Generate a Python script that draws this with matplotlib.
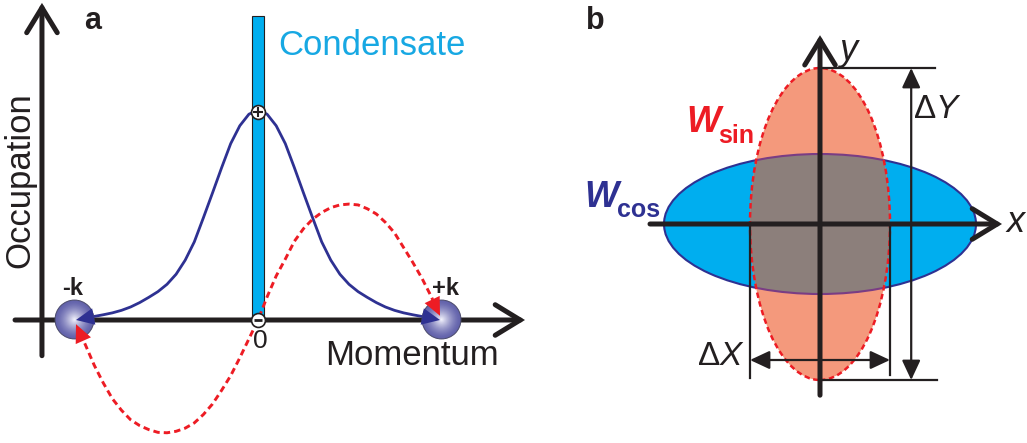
import matplotlib
matplotlib.use('Agg')
import matplotlib.pyplot as plt
from matplotlib.patches import Ellipse, Rectangle
from matplotlib.colors import to_rgb
import numpy as np

plt.rcParams['font.family'] = ['Liberation Sans', 'DejaVu Sans']
plt.rcParams['mathtext.fontset'] = 'custom'
plt.rcParams['mathtext.rm'] = 'Liberation Sans'
plt.rcParams['mathtext.it'] = 'Liberation Sans:italic'

INK = '#231f20'
NAVY = '#2e3192'
RED = '#ed1c24'
CYAN = '#00aeef'
CYAN_TEXT = '#17a8e3'
SALMON = '#f4997c'
GRAY = '#8c7f7b'
PURPLE = '#7a3d84'

# ---- panel a: occupation vs momentum (momentum in units of k) ----
momentum = np.round(np.arange(-1.0, 1.0001, 0.05), 2)
occupation_cos = [0.000, 0.009, 0.017, 0.025, 0.034, 0.046, 0.062, 0.083, 0.108, 0.135,
                  0.170, 0.218, 0.285, 0.372, 0.487, 0.605, 0.725, 0.840, 0.925, 0.980,
                  1.000,
                  0.980, 0.925, 0.840, 0.725, 0.605, 0.487, 0.372, 0.285, 0.218, 0.170,
                  0.135, 0.108, 0.083, 0.062, 0.046, 0.034, 0.025, 0.017, 0.009, 0.000]
amplitude_sin = [-0.020, -0.115, -0.215, -0.300, -0.375, -0.430, -0.475, -0.503, -0.522, -0.535,
                 -0.537, -0.530, -0.515, -0.490, -0.450, -0.400, -0.335, -0.265, -0.180, -0.090,
                 0.000,
                 0.110, 0.210, 0.290, 0.375, 0.435, 0.480, 0.512, 0.535, 0.548, 0.552,
                 0.548, 0.530, 0.505, 0.465, 0.415, 0.345, 0.275, 0.200, 0.115, 0.020]
condensate_height = 1.45
pair_momenta = [-1.01, 1.005]
pair_labels = ['-k', '+k']

# ---- panel b: Wigner ellipses ----
cos_size = (3.9, 1.75)   # width, height of W_cos
sin_size = (1.75, 3.9)   # width, height of W_sin
delta_x = 0.875          # half width of W_sin
delta_y = 1.95           # half height of W_sin

fig = plt.figure(figsize=(10.27, 4.43), dpi=100)

# panel a axes: 182 px per k, 210 px per unit occupation
ax = fig.add_axes([0, 0, 540 / 1027, 1])
ax.set_xlim(-258 / 182, 282 / 182)
ax.set_ylim(-123 / 210, 320 / 210)
ax.axis('off')

axis_arrow = dict(arrowstyle='->,head_length=0.9,head_width=0.55', mutation_scale=20,
                  lw=3.6, color=INK, shrinkA=0, shrinkB=0, joinstyle='miter')
ax.annotate('', xy=(-1.187, 1.51), xytext=(-1.187, -0.17), arrowprops=axis_arrow, zorder=2)
ax.annotate('', xy=(1.467, 0), xytext=(-1.335, 0), arrowprops=axis_arrow, zorder=2)

ax.add_patch(Rectangle((-0.033, 0), 0.066, condensate_height, fc=CYAN, ec=INK, lw=0.8, zorder=1))

ax.plot(momentum, occupation_cos, color=NAVY, lw=2.0, zorder=3, solid_joinstyle='round')
ax.plot(momentum, amplitude_sin, color=RED, lw=2.1, ls=(0, (2.2, 1.4)), zorder=3)

# shaded spheres for the +-k pairs
edge_rgb = np.array(to_rgb('#6262ab'))
core_rgb = np.array(to_rgb('#f8f8ff'))
n_layers = 30
for pm in pair_momenta:
    for i in range(n_layers):
        t = i / n_layers
        col = edge_rgb + (core_rgb - edge_rgb) * t ** 1.5
        ax.plot(pm, 0.005, 'o', ms=28 * (1 - t), color=col, mec='none', zorder=4)
    ax.plot(pm, 0.005, 'o', ms=28, mfc='none', mec='#4a4a6a', mew=0.7, zorder=4)

head = dict(arrowstyle='-|>,head_length=0.65,head_width=0.3', mutation_scale=20,
            lw=0, shrinkA=0, shrinkB=0)
for curve, col in [(occupation_cos, NAVY), (amplitude_sin, RED)]:
    ax.annotate('', xy=(momentum[0], curve[0]), xytext=(momentum[2], curve[2]),
                arrowprops=dict(head, color=col), zorder=5)
    ax.annotate('', xy=(momentum[-1], curve[-1]), xytext=(momentum[-3], curve[-3]),
                arrowprops=dict(head, color=col), zorder=5)

# phase markers on the condensate
ax.plot(0, 0.99, 'o', ms=10, mfc='white', mec=INK, mew=1.2, zorder=6)
ax.plot(0, 0.99, '+', ms=7, mec=INK, mew=1.5, zorder=7)
ax.plot(0, 0, 'o', ms=10, mfc='white', mec=INK, mew=1.2, zorder=6)
ax.plot(0, 0, '_', ms=6, mec=INK, mew=2.0, zorder=7)

ax.text(-0.907, 1.424, 'a', fontsize=22, fontweight='bold', color=INK, ha='center', va='center')
ax.text(0.626, 1.305, 'Condensate', fontsize=25, color=CYAN_TEXT, ha='center', va='center')
ax.text(-1.308, 0.667, 'Occupation', fontsize=25, color=INK, rotation=90, ha='center', va='center')
ax.text(0.846, -0.167, 'Momentum', fontsize=25, color=INK, ha='center', va='center')
ax.text(0.01, -0.10, '0', fontsize=19, color=INK, ha='center', va='center')
for pm, lab in zip(pair_momenta, pair_labels):
    ax.text(pm + 0.025 if lab == '+k' else pm - 0.01, 0.148, lab, fontsize=17,
            fontweight='bold', color=INK, ha='center', va='center')

# panel b axes: 80 px per unit, origin at (820, 224) px
bx = fig.add_axes([560 / 1027, 0, 467 / 1027, 1])
bx.set_xlim(-260 / 80, 207 / 80)
bx.set_ylim(-219 / 80, 224 / 80)
bx.axis('off')

bx.add_patch(Ellipse((0, 0), *cos_size, fc=CYAN, ec=NAVY, lw=1.5, zorder=1))
red_fill = Ellipse((0, 0), *sin_size, fc=SALMON, ec='none', zorder=2)
bx.add_patch(red_fill)
overlap = Ellipse((0, 0), *cos_size, fc=GRAY, ec=PURPLE, lw=1.5, zorder=3)
bx.add_patch(overlap)
overlap.set_clip_path(red_fill)
bx.add_patch(Ellipse((0, 0), *sin_size, fc='none', ec=RED, lw=1.8,
                     ls=(0, (2.2, 1.4)), zorder=4))

bx.annotate('', xy=(2.275, 0), xytext=(-2.125, 0), arrowprops=axis_arrow, zorder=6)
bx.annotate('', xy=(0, 2.36), xytext=(0, -2.14), arrowprops=axis_arrow, zorder=6)

dim_kw = dict(color=INK, lw=1.6, zorder=5)
dim_arrow = dict(arrowstyle='<|-|>,head_length=0.6,head_width=0.28', mutation_scale=20,
                 lw=1.6, color=INK, shrinkA=0, shrinkB=0)
# Delta Y
bx.plot([0.03, 1.44], [delta_y, delta_y], **dim_kw)
bx.plot([0.03, 1.46], [-delta_y, -delta_y], **dim_kw)
bx.annotate('', xy=(1.14, delta_y), xytext=(1.14, -delta_y), arrowprops=dim_arrow, zorder=5)
# Delta X
bx.plot([-delta_x, -delta_x], [0, -1.92], **dim_kw)
bx.plot([delta_x, delta_x], [0, -1.89], **dim_kw)
bx.annotate('', xy=(delta_x, -1.7), xytext=(-delta_x, -1.7), arrowprops=dim_arrow, zorder=5)

bx.text(-2.8125, 2.5375, 'b', fontsize=22, fontweight='bold', color=INK, ha='center', va='center')
bx.text(0.35, 2.17, 'y', fontsize=26, style='italic', color=INK, ha='center', va='center')
bx.text(2.44, 0.02, 'x', fontsize=26, style='italic', color=INK, ha='center', va='center')
bx.text(1.46, 1.425, r'$\Delta Y$', fontsize=24, color=INK, ha='center', va='center')
bx.text(-1.24, -1.66, r'$\Delta X$', fontsize=24, color=INK, ha='center', va='center')

bx.text(-1.67, 1.15, 'W', fontsize=26, fontweight='bold', style='italic', color=RED,
        ha='left', va='baseline')
bx.text(-1.275, 1.0125, 'sin', fontsize=18, fontweight='bold', color=RED,
        ha='left', va='baseline')
bx.text(-2.94, 0.2125, 'W', fontsize=26, fontweight='bold', style='italic', color=NAVY,
        ha='left', va='baseline')
bx.text(-2.54, 0.0875, 'cos', fontsize=18, fontweight='bold', color=NAVY,
        ha='left', va='baseline')

fig.savefig('out.png', dpi=100)
